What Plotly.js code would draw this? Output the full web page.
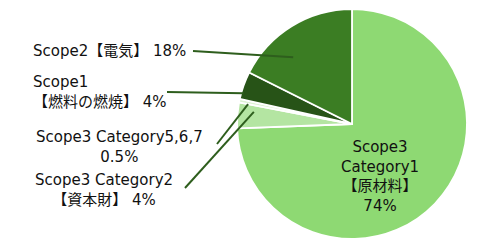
<!DOCTYPE html>
<html>
<head>
<meta charset="utf-8">
<script src="https://cdn.plot.ly/plotly-3.0.1.min.js"></script>
<style>html,body{margin:0;padding:0;background:#fff;}#chart{width:500px;height:250px;}</style>
</head>
<body>
<div id="chart"></div>
<script>
// ---- data ----
const categories = ['Scope3 Category1【原材料】', 'Scope3 Category2【資本財】', 'Scope3 Category5,6,7', 'Scope1【燃料の燃焼】', 'Scope2【電気】'];
const values = [74.4, 3.6, 0.5, 3.9, 17.6];
const pctLabels = ['74%', '4%', '0.5%', '4%', '18%'];
const labelLines = [
  ['Scope3', 'Category1', '【原材料】', '74%'],
  ['Scope3 Category2', '【資本財】 4%'],
  ['Scope3 Category5,6,7', '0.5%'],
  ['Scope1', '【燃料の燃焼】 4%'],
  ['Scope2【電気】 18%']
];
const colors = ['#8ED973', '#B4E5A2', '#DDF2D3', '#275317', '#3B7D23'];

// ---- layout/style ----
const W = 500, H = 250;
const dom = {x: [0.474, 0.934], y: [0.044, 0.964]};
const FONT = 'DejaVu Sans, Noto Sans CJK JP, sans-serif';
// label placement (pixels): anchor x, center y, xanchor, align
const labelPos = [
  {x: 380, y: 176, xa: 'center', al: 'center'},
  {x: 104, y: 189.5, xa: 'center', al: 'center'},
  {x: 119, y: 147, xa: 'center', al: 'center'},
  {x: 31, y: 92, xa: 'left', al: 'left'},
  {x: 31, y: 51, xa: 'left', al: 'left'}
];
// leader lines: start (pixels), position inside slice (fraction of span), radius fraction
const leaders = [
  null,
  {sx: 185, sy: 188, frac: 0.71, r: 0.86},
  {sx: 217, sy: 144, frac: 0.0, r: 0.92},
  {sx: 167, sy: 92, frac: 0.235, r: 0.98},
  {sx: 193, sy: 51, frac: 0.347, r: 0.774}
];

const total = values.reduce((a, b) => a + b, 0);
const cx = (dom.x[0] + dom.x[1]) / 2 * W;
const cy = H - (dom.y[0] + dom.y[1]) / 2 * H;
const R = Math.min((dom.x[1] - dom.x[0]) * W, (dom.y[1] - dom.y[0]) * H) / 2;

const shapes = [];
let cum = 0;
values.forEach((v, i) => {
  const a0 = cum / total * 360, span = v / total * 360;
  cum += v;
  const L = leaders[i];
  if (!L) return;
  const a = (a0 + L.frac * span) * Math.PI / 180;
  const tx = cx + L.r * R * Math.sin(a);
  const ty = cy - L.r * R * Math.cos(a);
  shapes.push({type: 'line', xref: 'paper', yref: 'paper',
    x0: L.sx / W, y0: 1 - L.sy / H, x1: tx / W, y1: 1 - ty / H,
    line: {color: '#2E5E1D', width: 2}});
});

const annotations = labelLines.map((lines, i) => ({
  xref: 'paper', yref: 'paper',
  x: labelPos[i].x / W, y: 1 - labelPos[i].y / H,
  xanchor: labelPos[i].xa, yanchor: 'middle', align: labelPos[i].al,
  text: lines.join('<br>'), showarrow: false,
  font: {family: FONT, size: 15, color: '#111111'}
}));

const trace = {
  type: 'pie',
  labels: categories,
  values: values,
  text: pctLabels,
  sort: false,
  direction: 'clockwise',
  rotation: 0,
  textinfo: 'none',
  hoverinfo: 'skip',
  domain: dom,
  marker: {colors: colors, line: {color: '#ffffff', width: 1.8}}
};

Plotly.newPlot('chart', [trace], {
  width: W, height: H,
  margin: {l: 0, r: 0, t: 0, b: 0},
  showlegend: false,
  paper_bgcolor: '#ffffff',
  shapes: shapes,
  annotations: annotations
}, {staticPlot: true});
</script>
</body>
</html>
